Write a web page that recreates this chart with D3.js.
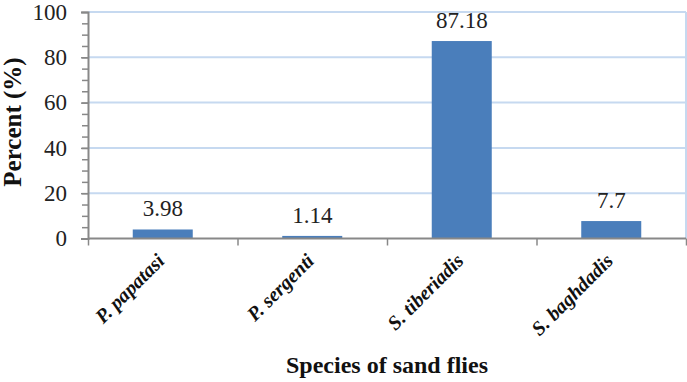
<!DOCTYPE html>
<html>
<head>
<meta charset="utf-8">
<script src="https://cdn.jsdelivr.net/npm/d3@7"></script>
<style>
  body { margin: 0; background: #fff; }
</style>
</head>
<body>
<svg width="687" height="382"></svg>
<script>
var species = ["P. papatasi", "P. sergenti", "S. tiberiadis", "S. baghdadis"];
var percent = [3.98, 1.14, 87.18, 7.7];
var yTicks = [0, 20, 40, 60, 80, 100];

var serif = "'Liberation Serif', 'Times New Roman', serif";
var svg = d3.select("svg");
var mLeft = 88, mRight = 686, mTop = 12, mBottom = 238.5;

var x = d3.scaleBand().domain(species).range([mLeft, mRight]).paddingInner(0).paddingOuter(0);
var y = d3.scaleLinear().domain([0, 100]).range([mBottom, mTop]);

// grid
svg.append("g").selectAll("line")
  .data(yTicks.filter(function (d) { return d > 0; }))
  .enter().append("line")
    .attr("x1", mLeft).attr("x2", mRight)
    .attr("y1", function (d) { return y(d); })
    .attr("y2", function (d) { return y(d); })
    .attr("stroke", "#c6d9f0").attr("stroke-width", 2);

svg.append("line")
  .attr("x1", mRight).attr("x2", mRight)
  .attr("y1", mTop).attr("y2", mBottom)
  .attr("stroke", "#c6d9f0").attr("stroke-width", 2);

// bars
svg.append("g").selectAll("rect")
  .data(percent)
  .enter().append("rect")
    .attr("x", function (d, i) { return x(species[i]) + x.bandwidth() / 2 - 30; })
    .attr("width", 60)
    .attr("y", function (d) { return y(d); })
    .attr("height", function (d) { return mBottom - y(d); })
    .attr("fill", "#4a7ebb");

// value labels
svg.append("g").selectAll("text")
  .data(percent)
  .enter().append("text")
    .attr("x", function (d, i) { return x(species[i]) + x.bandwidth() / 2; })
    .attr("y", function (d) { return y(d) - 13; })
    .attr("text-anchor", "middle")
    .style("font-family", serif)
    .style("font-size", "23px")
    .attr("fill", "#222")
    .text(function (d) { return d; });

// y axis (minor ticks)
var yAxisMinor = d3.axisLeft(y).ticks(20).tickSize(6).tickFormat("");
var gm = svg.append("g").attr("transform", "translate(" + mLeft + ",0)").call(yAxisMinor);
gm.select(".domain").remove();
gm.selectAll(".tick line").attr("stroke", "#888").attr("stroke-width", 1.5);

var yAxis = d3.axisLeft(y).tickValues(yTicks).tickSize(7).tickPadding(14);
var gy = svg.append("g").attr("transform", "translate(" + mLeft + ",0)").call(yAxis);
gy.select(".domain").attr("stroke", "#888").attr("stroke-width", 2);
gy.selectAll(".tick line").attr("stroke", "#888").attr("stroke-width", 1.5);
gy.selectAll(".tick text")
  .style("font-family", serif)
  .style("font-size", "23px")
  .attr("fill", "#222");

// x axis
var xEdges = d3.scaleLinear().domain([0, species.length]).range([mLeft, mRight]);
var xAxis = d3.axisBottom(xEdges).ticks(species.length).tickSize(7).tickFormat("");
var gx = svg.append("g").attr("transform", "translate(0," + mBottom + ")").call(xAxis);
gx.select(".domain").attr("stroke", "#888").attr("stroke-width", 2).attr("d", "M" + mLeft + ",0H" + mRight);
gx.selectAll(".tick line").attr("stroke", "#888").attr("stroke-width", 1.5);

// category labels
svg.append("g").selectAll("text")
  .data(species)
  .enter().append("text")
    .attr("transform", function (d) {
      return "translate(" + (x(d) + x.bandwidth() / 2 + 3) + "," + 262 + ") rotate(-45)";
    })
    .attr("text-anchor", "end")
    .style("font-family", serif)
    .style("font-size", "20px")
    .style("font-weight", "bold")
    .style("font-style", "italic")
    .attr("fill", "#111")
    .text(function (d) { return d; });

// axis titles
svg.append("text")
  .attr("x", (mLeft + mRight) / 2)
  .attr("y", 373)
  .attr("text-anchor", "middle")
  .style("font-family", serif)
  .style("font-size", "24px")
  .style("font-weight", "bold")
  .attr("fill", "#111")
  .text("Species of sand flies");

svg.append("text")
  .attr("transform", "translate(21,122) rotate(-90)")
  .attr("text-anchor", "middle")
  .style("font-family", serif)
  .style("font-size", "25px")
  .style("font-weight", "bold")
  .attr("fill", "#111")
  .text("Percent (%)");
</script>
</body>
</html>
